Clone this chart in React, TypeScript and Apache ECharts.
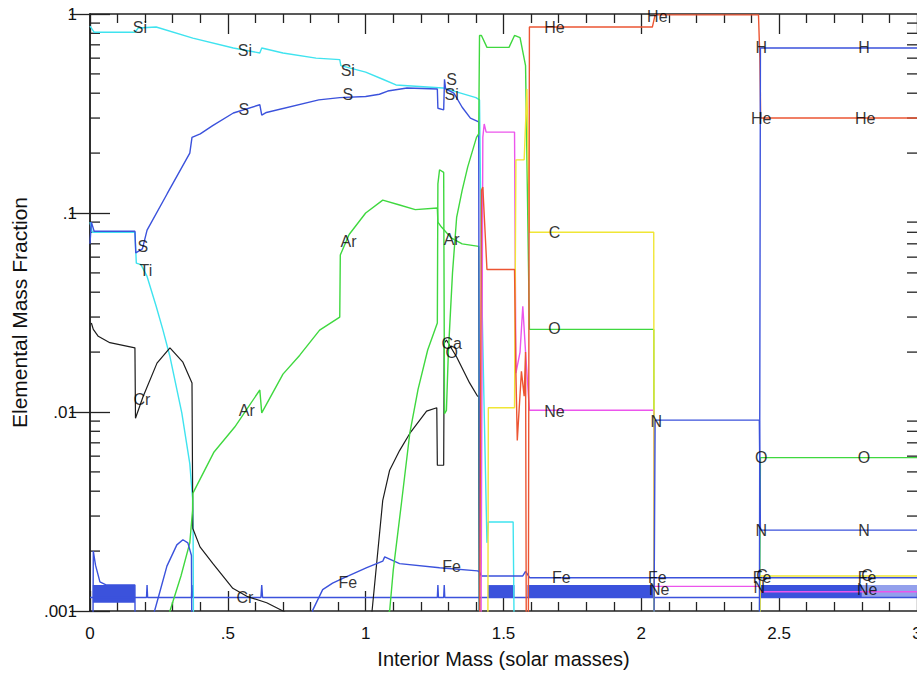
import React, { useEffect, useRef } from "react";
import * as echarts from "echarts";

// ---------- tick labels ----------
const xTickLabels: Record<string, string> = { "0": "0", "0.5": ".5", "1": "1", "1.5": "1.5", "2": "2", "2.5": "2.5", "3": "3" };
const yTickLabels: Record<string, string> = { "0": "1", "-1": ".1", "-2": ".01", "-3": ".001" };
const yMinorTicks = [
  0.002, 0.003, 0.004, 0.005, 0.006, 0.007, 0.008, 0.009,
  0.02, 0.03, 0.04, 0.05, 0.06, 0.07, 0.08, 0.09,
  0.2, 0.3, 0.4, 0.5, 0.6, 0.7, 0.8, 0.9,
];

// ---------- series values: [interior mass, mass fraction] ----------
const siData = [[0, 0.87], [0.015, 0.81], [0.163, 0.81], [0.175, 0.85], [0.24, 0.86], [0.373, 0.757], [0.52, 0.675], [0.616, 0.637], [0.623, 0.675], [0.7, 0.637], [0.82, 0.6], [0.906, 0.59], [0.91, 0.55], [1.0, 0.51], [1.062, 0.47], [1.11, 0.44], [1.28, 0.425], [1.4, 0.38], [1.413, 0.37], [1.42, 0.05], [1.43, 0.01], [1.44, 0.0022], [1.445, 0.0028], [1.535, 0.0028], [1.54, 0.0005]];
const tiData = [[0, 0.09], [0.008, 0.08], [0.163, 0.08], [0.168, 0.056], [0.185, 0.055], [0.207, 0.048], [0.24, 0.034], [0.264, 0.026], [0.29, 0.019], [0.333, 0.0099], [0.362, 0.0055], [0.372, 0.0037], [0.374, 0.0026], [0.376, 0.0005]];
const sData = [[0, 0.07], [0.005, 0.09], [0.015, 0.081], [0.163, 0.081], [0.166, 0.063], [0.19, 0.066], [0.207, 0.082], [0.28, 0.125], [0.362, 0.2], [0.37, 0.24], [0.4, 0.25], [0.445, 0.275], [0.52, 0.318], [0.616, 0.35], [0.623, 0.31], [0.64, 0.32], [0.83, 0.37], [0.906, 0.38], [1.0, 0.385], [1.05, 0.395], [1.08, 0.41], [1.15, 0.425], [1.26, 0.42], [1.262, 0.336], [1.283, 0.33], [1.286, 0.47], [1.29, 0.42], [1.32, 0.4], [1.35, 0.34], [1.38, 0.3], [1.41, 0.287], [1.413, 0.0005]];
const arData = [[0.28, 0.0008], [0.29, 0.001], [0.33, 0.0015], [0.362, 0.0022], [0.372, 0.0032], [0.373, 0.0039], [0.45, 0.0063], [0.525, 0.0084], [0.616, 0.0129], [0.623, 0.0099], [0.7, 0.0155], [0.761, 0.0193], [0.833, 0.0258], [0.906, 0.03], [0.908, 0.0615], [0.94, 0.078], [1.0, 0.1], [1.062, 0.116], [1.12, 0.11], [1.18, 0.104], [1.26, 0.106], [1.262, 0.09], [1.275, 0.085], [1.31, 0.075], [1.35, 0.07], [1.41, 0.068], [1.413, 0.0005]];
const oData = [[1.06, 0.0009], [1.087, 0.001], [1.1, 0.0016], [1.13, 0.0035], [1.16, 0.0078], [1.19, 0.013], [1.225, 0.0205], [1.26, 0.028], [1.262, 0.14], [1.268, 0.165], [1.283, 0.16], [1.286, 0.0098], [1.293, 0.0102], [1.3, 0.02], [1.315, 0.05], [1.33, 0.095], [1.35, 0.13], [1.37, 0.17], [1.402, 0.24], [1.41, 0.25], [1.413, 0.78], [1.42, 0.78], [1.44, 0.68], [1.52, 0.68], [1.54, 0.78], [1.56, 0.76], [1.58, 0.55], [1.594, 0.026], [2.045, 0.026], [2.047, 0.0005], [2.428, 0.0005], [2.432, 0.0059], [3, 0.0059]];
const crData = [[0.005, 0.028], [0.012, 0.026], [0.03, 0.024], [0.072, 0.0223], [0.163, 0.021], [0.165, 0.0093], [0.192, 0.0119], [0.243, 0.0176], [0.29, 0.021], [0.337, 0.0178], [0.37, 0.014], [0.373, 0.0026], [0.399, 0.0021], [0.446, 0.00173], [0.518, 0.0013], [0.572, 0.00118], [0.641, 0.0011], [0.7, 0.001], [0.75, 0.0009]];
const caData = [[1.02, 0.0009], [1.062, 0.0036], [1.087, 0.0051], [1.123, 0.0064], [1.16, 0.0078], [1.221, 0.0101], [1.258, 0.0105], [1.26, 0.0054], [1.283, 0.0054], [1.285, 0.0222], [1.293, 0.023], [1.33, 0.0189], [1.377, 0.014], [1.406, 0.012], [1.41, 0.012], [1.413, 0.0005]];
const feData = [[0.01, 0.0005], [0.012, 0.002], [0.02, 0.0017], [0.036, 0.0014], [0.06, 0.00135], [0.163, 0.00135], [0.164, 0.0005], [0.22, 0.0005], [0.225, 0.0009], [0.25, 0.0012], [0.279, 0.00168], [0.315, 0.00215], [0.337, 0.00228], [0.355, 0.0022], [0.368, 0.0019], [0.37, 0.0005], [0.8, 0.0005], [0.808, 0.00101], [0.844, 0.00128], [0.88, 0.00138], [0.917, 0.00146], [1.004, 0.00165], [1.062, 0.00178], [1.069, 0.00187], [1.123, 0.00173], [1.268, 0.00165], [1.406, 0.00159], [1.413, 0.00157], [1.42, 0.0015], [1.57, 0.0015], [1.58, 0.00158], [1.595, 0.00147], [3, 0.00147]];
const baseData = [[0, 0.00117], [0.205, 0.00117], [0.207, 0.00135], [0.209, 0.00117], [0.368, 0.00117], [0.37, 0.00135], [0.372, 0.00117], [0.62, 0.00117], [0.623, 0.00135], [0.626, 0.00117], [1.26, 0.00117], [1.262, 0.00135], [1.264, 0.00117], [1.283, 0.00117], [1.285, 0.00135], [1.287, 0.00117], [3, 0.00117]];
const heData = [[1.413, 0.0005], [1.42, 0.13], [1.425, 0.135], [1.44, 0.052], [1.54, 0.052], [1.545, 0.0157], [1.55, 0.0072], [1.565, 0.016], [1.575, 0.012], [1.58, 0.02], [1.583, 0.0005], [1.59, 0.0005], [1.594, 0.86], [2.04, 0.86], [2.05, 0.99], [2.425, 0.99], [2.43, 0.6], [2.433, 0.3], [3, 0.3]];
const cData = [[1.443, 0.0005], [1.445, 0.0105], [1.54, 0.0105], [1.545, 0.185], [1.575, 0.185], [1.585, 0.42], [1.594, 0.08], [2.045, 0.08], [2.047, 0.0005], [2.428, 0.0005], [2.432, 0.0015], [3, 0.0015]];
const neData = [[1.418, 0.0005], [1.425, 0.24], [1.43, 0.28], [1.437, 0.255], [1.54, 0.255], [1.545, 0.0157], [1.56, 0.02], [1.57, 0.034], [1.58, 0.02], [1.594, 0.0102], [2.045, 0.0102], [2.047, 0.00133], [2.428, 0.00133], [2.432, 0.00125], [3, 0.00125]];
const nData = [[2.045, 0.0005], [2.05, 0.0091], [2.428, 0.0091], [2.432, 0.00255], [3, 0.00255]];
const hData = [[2.428, 0.0005], [2.432, 0.675], [3, 0.675]];

// dense-oscillation bands: [x0, y0, x1, y1]
const solidBands = [[0.01, 0.0011, 0.163, 0.00135], [1.443, 0.00117, 1.54, 0.00135], [1.587, 0.00117, 2.047, 0.00135], [2.43, 0.00117, 2.8, 0.00135]];
const stripedBands = [[2.8, 0.00117, 3.0, 0.00135]];

// element labels: [mass, fraction, text]
const elementLabels: [number, number, string][] = [
  [0.181, 0.86, "Si"], [0.562, 0.652, "Si"], [0.935, 0.52, "Si"], [1.312, 0.392, "Si"],
  [0.192, 0.068, "S"], [0.558, 0.33, "S"], [0.935, 0.392, "S"], [1.312, 0.47, "S"],
  [0.203, 0.0517, "Ti"],
  [0.188, 0.0115, "Cr"], [0.562, 0.00117, "Cr"],
  [0.938, 0.0716, "Ar"], [1.312, 0.0732, "Ar"], [0.569, 0.0102, "Ar"],
  [1.312, 0.022, "Ca"], [1.312, 0.0198, "O"],
  [0.935, 0.00139, "Fe"], [1.312, 0.00168, "Fe"], [1.71, 0.00147, "Fe"], [2.058, 0.00147, "Fe"], [2.438, 0.00147, "Fe"], [2.819, 0.00147, "Fe"],
  [1.685, 0.86, "He"], [2.058, 0.966, "He"], [2.435, 0.3, "He"], [2.812, 0.3, "He"],
  [2.435, 0.675, "H"], [2.808, 0.675, "H"],
  [1.685, 0.08, "C"], [2.438, 0.0015, "C"], [2.819, 0.0015, "C"],
  [1.685, 0.0264, "O"], [2.435, 0.0059, "O"], [2.808, 0.0059, "O"],
  [1.685, 0.0101, "Ne"], [2.065, 0.00128, "Ne"], [2.819, 0.00128, "Ne"],
  [2.054, 0.009, "N"], [2.435, 0.00255, "N"], [2.808, 0.00255, "N"], [2.428, 0.00132, "N"],
];

const CYAN = "#3fe3ef";
const BLUE = "#3b52dc";
const GREEN = "#3fd83f";
const RED = "#ec5533";
const YELLOW = "#f0e635";
const MAGENTA = "#ec55ec";
const BLACK = "#1c1c1c";
const FONT = "'Liberation Sans', Arial, Helvetica, sans-serif";

function line(name: string, data: number[][], color: string, width = 1.4, extra: any = {}) {
  return {
    name,
    type: "line",
    data,
    showSymbol: false,
    symbol: "none",
    clip: true,
    silent: true,
    lineStyle: { color, width },
    itemStyle: { color },
    ...extra,
  };
}

export default function App() {
  const ref = useRef<HTMLDivElement>(null);
  useEffect(() => {
    if (!ref.current) return;
    const chart = echarts.init(ref.current, undefined, { renderer: "svg" });
    const axisLine = { show: true, lineStyle: { color: "#222", width: 1.5 } };
    const xCommon = {
      type: "value",
      min: 0,
      max: 3,
      interval: 0.5,
      axisLine,
      axisTick: { show: true, inside: true, length: 20, lineStyle: { color: "#222", width: 1.3 } },
      minorTick: { show: true, splitNumber: 5, length: 9, lineStyle: { color: "#222", width: 1.3 } },
      splitLine: { show: false },
    };
    const yCommon = {
      type: "log",
      logBase: 10,
      min: 0.001,
      max: 1,
      axisLine,
      axisTick: { show: true, inside: true, length: 20, lineStyle: { color: "#222", width: 1.3 } },
      splitLine: { show: false },
    };
    const bandArea = (bands: number[][], color: string) => ({
      silent: true,
      itemStyle: { color, opacity: 1 },
      data: bands.map((b) => [{ coord: [b[0], b[1]] }, { coord: [b[2], b[3]] }]),
    });
    const option: any = {
      animation: false,
      backgroundColor: "#ffffff",
      textStyle: { fontFamily: FONT },
      grid: { left: 90, top: 14, width: 827, height: 597, containLabel: false, outerBoundsMode: "none" },
      xAxis: [
        {
          ...xCommon,
          position: "bottom",
          name: "Interior Mass (solar masses)",
          nameLocation: "middle",
          nameGap: 38,
          nameTextStyle: { fontSize: 20, color: "#111", fontFamily: FONT },
          axisLabel: {
            show: true,
            margin: 14,
            fontSize: 17,
            color: "#111",
            fontFamily: FONT,
            formatter: (v: number) => xTickLabels[String(+v.toFixed(2))] ?? "",
          },
        },
        { ...xCommon, position: "top", axisLabel: { show: false } },
      ],
      yAxis: [
        {
          ...yCommon,
          position: "left",
          name: "Elemental Mass Fraction",
          nameLocation: "middle",
          nameGap: 60,
          nameTextStyle: { fontSize: 21, color: "#111", fontFamily: FONT },
          axisLabel: {
            show: true,
            margin: 13,
            fontSize: 17,
            color: "#111",
            fontFamily: FONT,
            formatter: (v: number) => yTickLabels[String(Math.round(Math.log10(v)))] ?? "",
          },
        },
        { ...yCommon, position: "right", axisLabel: { show: false } },
      ],
      series: [
        line("base", baseData, BLUE, 1.4, { markArea: bandArea(solidBands, BLUE) }),
        line("bandStripe", [], BLUE, 1, { markArea: bandArea(stripedBands, "rgba(59,82,220,0.55)") }),
        line("Si", siData, CYAN),
        line("Ti", tiData, CYAN),
        line("Cr", crData, BLACK, 1.2),
        line("Ca", caData, BLACK, 1.2),
        line("Ar", arData, GREEN),
        line("Fe", feData, BLUE),
        line("S", sData, BLUE),
        line("O", oData, GREEN),
        line("Ne", neData, MAGENTA),
        line("C", cData, YELLOW),
        line("He", heData, RED),
        line("N", nData, BLUE),
        line("H", hData, BLUE),
        {
          name: "minorTicks",
          type: "custom",
          silent: true,
          clip: false,
          data: yMinorTicks.map((v) => [0, v]),
          renderItem: (_p: any, api: any) => {
            const v = api.value(1);
            const l = api.coord([0, v]);
            const r = api.coord([3, v]);
            return {
              type: "group",
              children: [
                { type: "line", shape: { x1: l[0], y1: l[1], x2: l[0] + 10, y2: l[1] }, style: { stroke: "#222", lineWidth: 1.3 } },
                { type: "line", shape: { x1: r[0] - 10, y1: r[1], x2: r[0], y2: r[1] }, style: { stroke: "#222", lineWidth: 1.3 } },
              ],
            };
          },
        },
        {
          name: "labels",
          type: "scatter",
          silent: true,
          symbol: "circle",
          symbolSize: 0.1,
          itemStyle: { color: "rgba(0,0,0,0)" },
          z: 10,
          data: elementLabels.map((d) => ({ value: [d[0], d[1]], name: d[2] })),
          label: {
            show: true,
            position: "inside",
            formatter: "{b}",
            fontSize: 16,
            color: "#000",
            fontFamily: FONT,
          },
          labelLayout: { hideOverlap: false },
        },
      ],
    };
    chart.setOption(option);
    return () => chart.dispose();
  }, []);
  return (
    <div
      ref={ref}
      style={{ position: "fixed", left: 0, top: 0, width: 917, height: 673, background: "#fff" }}
    />
  );
}
